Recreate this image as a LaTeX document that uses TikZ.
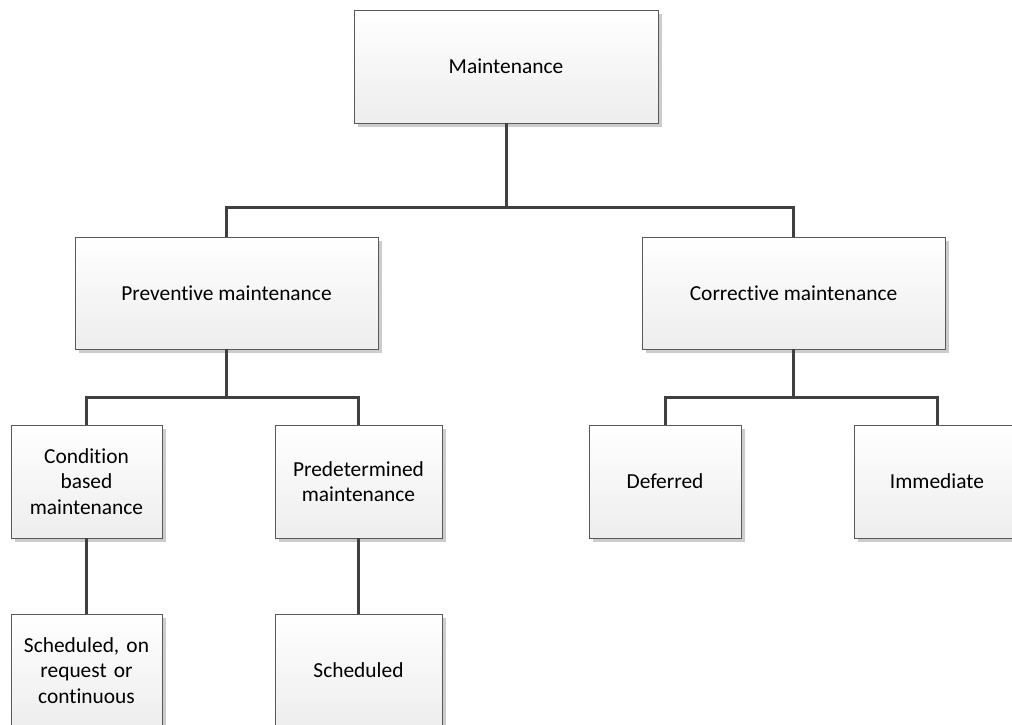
\documentclass[tikz,border=0pt]{standalone}
\usepackage{fontspec}
\setmainfont{Carlito}[Ligatures=NoCommon]
\usetikzlibrary{shadows}
\frenchspacing
\tikzset{
  box/.style={draw=black!65, line width=0.8pt, rectangle, inner sep=0pt,
    top color=white, bottom color=black!7, align=center,
    font=\fontsize{21.4}{25.5}\selectfont\frenchspacing,
    drop shadow={shadow xshift=4pt, shadow yshift=-4pt, fill=black!20, opacity=1}},
  link/.style={draw=black!75, line width=3pt}
}
\begin{document}
\begin{tikzpicture}[x=1pt,y=-1pt]
\useasboundingbox (0,0) rectangle (1012,724);
\clip (0,0) rectangle (1012,724);
\coordinate (b1) at (0,207);
\coordinate (b2) at (0,397);
\node[box, minimum width=304pt, minimum height=113pt] (M) at (506,66.5) {Maintenance};
\node[box, minimum width=303pt, minimum height=112pt] (P) at (226.5,293) {Preventive maintenance};
\node[box, minimum width=303pt, minimum height=112pt] (C) at (793.5,293) {Corrective maintenance};
\node[box, minimum width=151pt, minimum height=113pt, text width=145pt] (CB) at (86.5,481.5) {Condition\\based\\maintenance};
\node[box, minimum width=167pt, minimum height=113pt, text width=160pt] (PD) at (358.5,481.5) {Predetermined\\maintenance};
\node[box, minimum width=152pt, minimum height=113pt] (D) at (665,481.5) {Deferred};
\node[box, minimum width=166pt, minimum height=113pt] (I) at (937,481.5) {Immediate};
\node[box, minimum width=151pt, minimum height=113pt, text width=145pt] (SC) at (86.5,670.5) {Scheduled, on\\request or\\continuous};
\node[box, minimum width=167pt, minimum height=113pt] (S) at (358.5,670.5) {Scheduled};
\draw[link] (M.south) -- (M.south |- b1) -| (P.north);
\draw[link] (M.south |- b1) -| (C.north);
\draw[link] (P.south) -- (P.south |- b2) -| (CB.north);
\draw[link] (P.south |- b2) -| (PD.north);
\draw[link] (C.south) -- (C.south |- b2) -| (D.north);
\draw[link] (C.south |- b2) -| (I.north);
\draw[link] (CB.south) -- (SC.north);
\draw[link] (PD.south) -- (S.north);
\end{tikzpicture}
\end{document}
